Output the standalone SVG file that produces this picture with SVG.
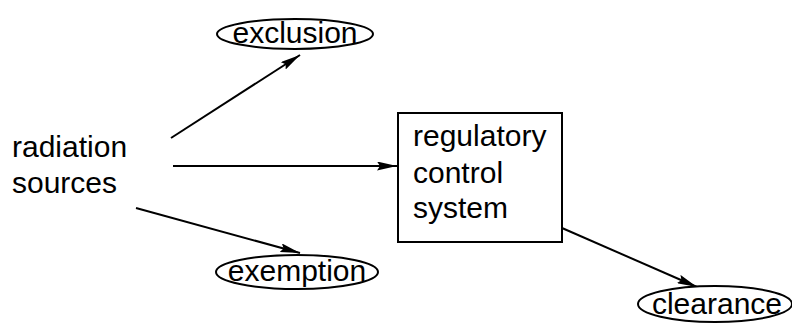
<svg xmlns="http://www.w3.org/2000/svg" width="792" height="326" viewBox="0 0 792 326">
<style>
text{font-family:"Liberation Sans",Arial,sans-serif;font-size:30px;fill:#000}
.shape{fill:#fff;stroke:#000;stroke-width:2}
.edge{stroke:#000;stroke-width:2;fill:none}
</style>
<defs>
<marker id="arr" viewBox="0 0 20 9" refX="20" refY="4.5" markerWidth="20" markerHeight="9" markerUnits="userSpaceOnUse" orient="auto">
<path d="M0,0 L20,4.5 L0,9 L3,4.5 Z" fill="#000"/>
</marker>
</defs>
<rect width="792" height="326" fill="#fff"/>
<g id="connectors">
<line class="edge" x1="171" y1="138" x2="300" y2="55" marker-end="url(#arr)"/>
<line class="edge" x1="173" y1="166" x2="397" y2="166" marker-end="url(#arr)"/>
<line class="edge" x1="136" y1="208" x2="300" y2="253" marker-end="url(#arr)"/>
<line class="edge" x1="562" y1="228" x2="697" y2="287" marker-end="url(#arr)"/>
</g>
<g id="radiation-sources">
<text x="12" y="157">radiation</text>
<text x="12" y="193">sources</text>
</g>
<g id="exclusion">
<ellipse class="shape" cx="295" cy="34" rx="78" ry="15"/>
<text x="295" y="43" text-anchor="middle">exclusion</text>
</g>
<g id="exemption">
<ellipse class="shape" cx="297" cy="272" rx="81" ry="17"/>
<text x="297" y="281" text-anchor="middle">exemption</text>
</g>
<g id="regulatory-control-system">
<rect class="shape" x="398" y="113" width="164" height="129"/>
<text x="413" y="146">regulatory</text>
<text x="413" y="183">control</text>
<text x="413" y="218">system</text>
</g>
<g id="clearance">
<ellipse class="shape" cx="715" cy="304" rx="77" ry="18"/>
<text x="717" y="314" text-anchor="middle">clearance</text>
</g>
</svg>
